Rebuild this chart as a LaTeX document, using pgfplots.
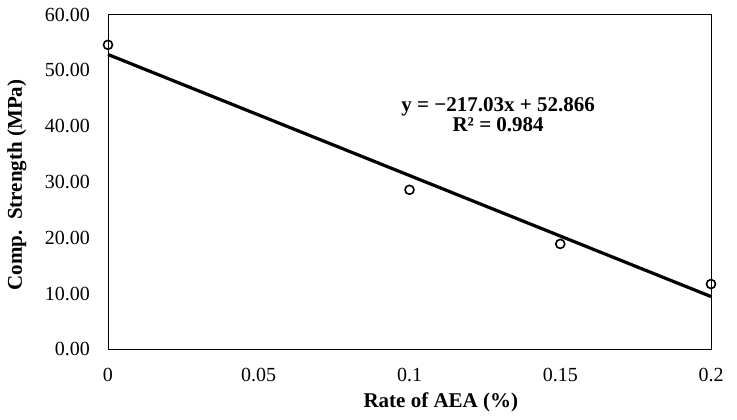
\documentclass[border=0pt]{standalone}
\usepackage{fontspec}
\setmainfont{Liberation Serif}
\usepackage{pgfplots}
\pgfplotsset{compat=1.18}
\begin{document}
\fontsize{20}{24}\selectfont
\begin{tikzpicture}[x=1pt,y=1pt]
\path (-108,-69.7) rectangle (629,349.3);
\begin{axis}[
  at={(0,0)}, anchor=south west,
  scale only axis, width=603pt, height=334.6pt,
  xmin=0, xmax=0.2, ymin=0, ymax=60,
  xtick={0,0.05,0.1,0.15,0.2},
  xticklabels={0,0.05,0.1,0.15,0.2},
  ytick={0,10,20,30,40,50,60},
  /pgf/number format/fixed,
  /pgf/number format/fixed zerofill,
  /pgf/number format/precision=2,
  /pgf/number format/assume math mode=true,
  tick label style={font=\fontsize{20}{24}\selectfont},
  yticklabel style={xshift=-11.3pt},
  xticklabel style={yshift=-12pt},
  major tick length=0pt,
  axis line style={black, line width=0.9pt},
  every axis x label/.style={at={(axis description cs:0.552,-0.16)},anchor=center,font=\fontsize{21}{24}\selectfont\bfseries},
  every axis y label/.style={at={(axis description cs:-0.151,0.491)},rotate=90,anchor=center,font=\fontsize{21}{24}\selectfont\bfseries},
  xlabel={Rate of AEA (\%)},
  ylabel={Comp.\ \ Strength (MPa)},
  clip=false,
]
\addplot[only marks, mark=o, mark size=4.5pt, line width=1.6pt, black] coordinates {
  (0,54.6) (0.1,28.6) (0.15,18.9) (0.2,11.7)
};
\addplot[black, line width=3.2pt, line cap=butt] coordinates {
  (0,52.866) (0.2,9.46)
};
\node[align=center, font=\fontsize{21}{20}\selectfont\bfseries, anchor=center] at (axis cs:0.1294,42.1) {y = −217.03x + 52.866\\R² = 0.984};
\end{axis}
\end{tikzpicture}
\end{document}
